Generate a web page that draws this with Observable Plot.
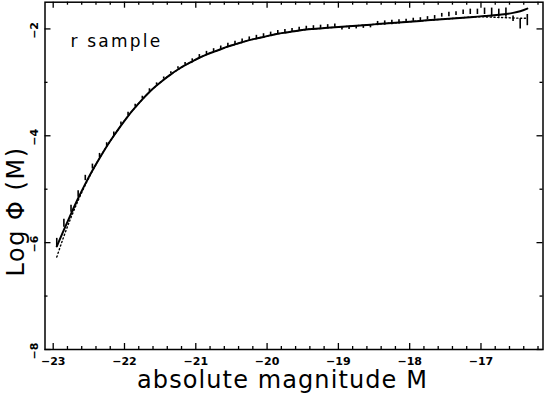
<!DOCTYPE html>
<html><head><meta charset="utf-8">
<script src="https://cdn.jsdelivr.net/npm/d3@7"></script>
<script src="https://cdn.jsdelivr.net/npm/@observablehq/plot@0.6"></script>
<style>body{margin:0;background:#fff}</style>
</head><body><div id="chart"></div>
<script>
// absolute magnitude bins (centres)
const magnitudes = [-22.95,-22.85,-22.75,-22.65,-22.55,-22.45,-22.35,-22.25,-22.15,-22.05,
  -21.95,-21.85,-21.75,-21.65,-21.55,-21.45,-21.35,-21.25,-21.15,-21.05,
  -20.95,-20.85,-20.75,-20.65,-20.55,-20.45,-20.35,-20.25,-20.15,-20.05,
  -19.95,-19.85,-19.75,-19.65,-19.55,-19.45,-19.35,-19.25,-19.15,-19.05,
  -18.95,-18.85,-18.75,-18.65,-18.55,-18.45,-18.35,-18.25,-18.15,-18.05,
  -17.95,-17.85,-17.75,-17.65,-17.55,-17.45,-17.35,-17.25,-17.15,-17.05,
  -16.95,-16.85,-16.75,-16.65,-16.55,-16.45,-16.35];
// solid fit curve, log phi
const fitSolid = [-6.07,-5.76,-5.46,-5.17,-4.90,-4.65,-4.42,-4.20,-4.00,-3.81,
  -3.63,-3.47,-3.32,-3.18,-3.06,-2.95,-2.85,-2.76,-2.68,-2.61,
  -2.54,-2.48,-2.43,-2.38,-2.33,-2.29,-2.25,-2.21,-2.18,-2.15,
  -2.12,-2.09,-2.07,-2.05,-2.03,-2.01,-2.00,-1.99,-1.98,-1.97,
  -1.96,-1.95,-1.94,-1.93,-1.92,-1.91,-1.90,-1.89,-1.88,-1.87,
  -1.86,-1.85,-1.84,-1.83,-1.82,-1.81,-1.80,-1.79,-1.78,-1.77,
  -1.76,-1.75,-1.735,-1.72,-1.70,-1.67,-1.62];
// dotted fit curve, log phi
const fitDotted = [-6.27,-5.88,-5.53,-5.21,-4.92,-4.66,-4.42,-4.20,-4.00,-3.81,
  -3.63,-3.47,-3.32,-3.18,-3.06,-2.95,-2.85,-2.76,-2.68,-2.61,
  -2.54,-2.48,-2.43,-2.38,-2.33,-2.29,-2.25,-2.21,-2.18,-2.15,
  -2.12,-2.09,-2.07,-2.05,-2.03,-2.01,-2.00,-1.99,-1.98,-1.97,
  -1.96,-1.95,-1.94,-1.93,-1.92,-1.91,-1.90,-1.89,-1.88,-1.87,
  -1.86,-1.85,-1.84,-1.83,-1.82,-1.81,-1.80,-1.79,-1.78,-1.775,
  -1.775,-1.78,-1.785,-1.79,-1.795,-1.80,-1.80];
// error bars: lower and upper log phi
const errLow = [-6.09,-5.71,-5.43,-5.15,-4.84,-4.62,-4.41,-4.20,-4.00,-3.80,
  -3.62,-3.46,-3.31,-3.17,-3.05,-2.94,-2.84,-2.75,-2.67,-2.60,
  -2.54,-2.48,-2.43,-2.38,-2.33,-2.29,-2.25,-2.21,-2.18,-2.15,
  -2.12,-2.09,-2.07,-2.05,-2.03,-2.01,-2.00,-1.99,-1.98,-1.97,
  -2.02,-2.01,-2.00,-1.99,-1.98,-1.94,-1.93,-1.92,-1.91,-1.90,
  -1.86,-1.85,-1.83,-1.82,-1.78,-1.77,-1.75,-1.73,-1.73,-1.73,
  -1.73,-1.78,-1.78,-1.78,-1.86,-2.00,-1.94];
const errHigh = [-5.92,-5.56,-5.30,-5.03,-4.74,-4.53,-4.33,-4.13,-3.93,-3.74,
  -3.56,-3.41,-3.26,-3.12,-3.01,-2.90,-2.80,-2.71,-2.63,-2.56,
  -2.48,-2.42,-2.37,-2.32,-2.27,-2.23,-2.19,-2.15,-2.12,-2.09,
  -2.06,-2.03,-2.01,-1.99,-1.97,-1.95,-1.94,-1.93,-1.92,-1.91,
  -1.96,-1.95,-1.94,-1.93,-1.92,-1.86,-1.85,-1.84,-1.83,-1.82,
  -1.80,-1.79,-1.77,-1.75,-1.71,-1.69,-1.68,-1.645,-1.63,-1.63,
  -1.61,-1.61,-1.63,-1.61,-1.76,-1.81,-1.73];
const xMajorTicks = [-23,-22,-21,-20,-19,-18,-17];
const xTickLabels = ["−23","−22","−21","−20","−19","−18","−17"];
const xMinorTicks = [-22.8,-22.6,-22.4,-22.2,-21.8,-21.6,-21.4,-21.2,-20.8,-20.6,-20.4,-20.2,
  -19.8,-19.6,-19.4,-19.2,-18.8,-18.6,-18.4,-18.2,-17.8,-17.6,-17.4,-17.2,-16.8,-16.6,-16.4,-16.2];
const yMajorTicks = [-2,-4,-6,-8];
const yTickLabels = ["−2","−4","−6","−8"];
const yMinorTicks = [-3,-5,-7];
const sampleLabel = "r sample";
const xTitle = "absolute magnitude M";
const yTitle = "Log Φ (M)";

const W = 545, H = 393, mL = 44.5, mR = 2.5, mT = 1.7, mB = 44;
const fh = H - mT - mB, fw = W - mL - mR;
const fit = magnitudes.map((m, i) => ({m, solid: fitSolid[i], dotted: fitDotted[i]}));
const obs = magnitudes.map((m, i) => ({m, lo: errLow[i], hi: errHigh[i]}));
const tickStyle = {stroke: "black", strokeWidth: 1.3};

const chart = Plot.plot({
  width: W, height: H,
  marginLeft: mL, marginRight: mR, marginTop: mT, marginBottom: mB,
  x: {domain: [-23.115, -16.13], axis: null},
  y: {domain: [-8, -1.5], axis: null},
  style: {background: "white", fontFamily: "DejaVu Sans", color: "black"},
  marks: [
    Plot.line(fit, {x: "m", y: "dotted", stroke: "black", strokeWidth: 1.4, strokeDasharray: "1.2,2.6", curve: "natural"}),
    Plot.ruleX(obs, {x: "m", y1: "lo", y2: "hi", stroke: "black", strokeWidth: 1.6}),
    Plot.line(fit, {x: "m", y: "solid", stroke: "black", strokeWidth: 2, curve: "natural"}),
    Plot.tickX(xMajorTicks, {x: d => d, insetTop: fh - 6, ...tickStyle}),
    Plot.tickX(xMinorTicks, {x: d => d, insetTop: fh - 3, ...tickStyle}),
    Plot.tickX(xMajorTicks, {x: d => d, insetBottom: fh - 6, ...tickStyle}),
    Plot.tickX(xMinorTicks, {x: d => d, insetBottom: fh - 3, ...tickStyle}),
    Plot.tickY(yMajorTicks, {y: d => d, insetRight: fw - 6, ...tickStyle}),
    Plot.tickY(yMinorTicks, {y: d => d, insetRight: fw - 3, ...tickStyle}),
    Plot.tickY(yMajorTicks, {y: d => d, insetLeft: fw - 6, ...tickStyle}),
    Plot.tickY(yMinorTicks, {y: d => d, insetLeft: fw - 3, ...tickStyle}),
    Plot.frame({stroke: "black", strokeWidth: 1.5}),
    Plot.text(xMajorTicks, {x: d => d, frameAnchor: "bottom", text: (d, i) => xTickLabels[i],
      dy: 15, lineAnchor: "bottom", fontSize: 11, fontWeight: "bold", fill: "black"}),
    Plot.text(yMajorTicks, {y: d => d, frameAnchor: "left", text: (d, i) => yTickLabels[i],
      rotate: -90, dx: -7.5, dy: 1.5, lineAnchor: "bottom", textAnchor: "middle", fontSize: 11, fontWeight: "bold", fill: "black"}),
    Plot.text([sampleLabel], {frameAnchor: "top-left", text: d => d, dx: 25.5, dy: 45,
      textAnchor: "start", lineAnchor: "bottom", fontSize: 17, fill: "black"}),
    Plot.text([xTitle], {frameAnchor: "bottom", text: d => d, dx: -11.5, dy: 38.5,
      lineAnchor: "bottom", fontSize: 24, fill: "black"}),
    Plot.text([yTitle], {frameAnchor: "left", text: d => d, rotate: -90, dx: -28.9, dy: 35.6,
      lineAnchor: "middle", textAnchor: "middle", fontSize: 24, fill: "black"})
  ]
});
document.getElementById("chart").appendChild(chart);
const spacing = {[sampleLabel]: "2.2px", [xTitle]: "1.1px", [yTitle]: "1.5px"};
d3.select(chart).selectAll("text").each(function () {
  const s = spacing[this.textContent];
  if (s) this.style.letterSpacing = s;
});
</script>
</body></html>
